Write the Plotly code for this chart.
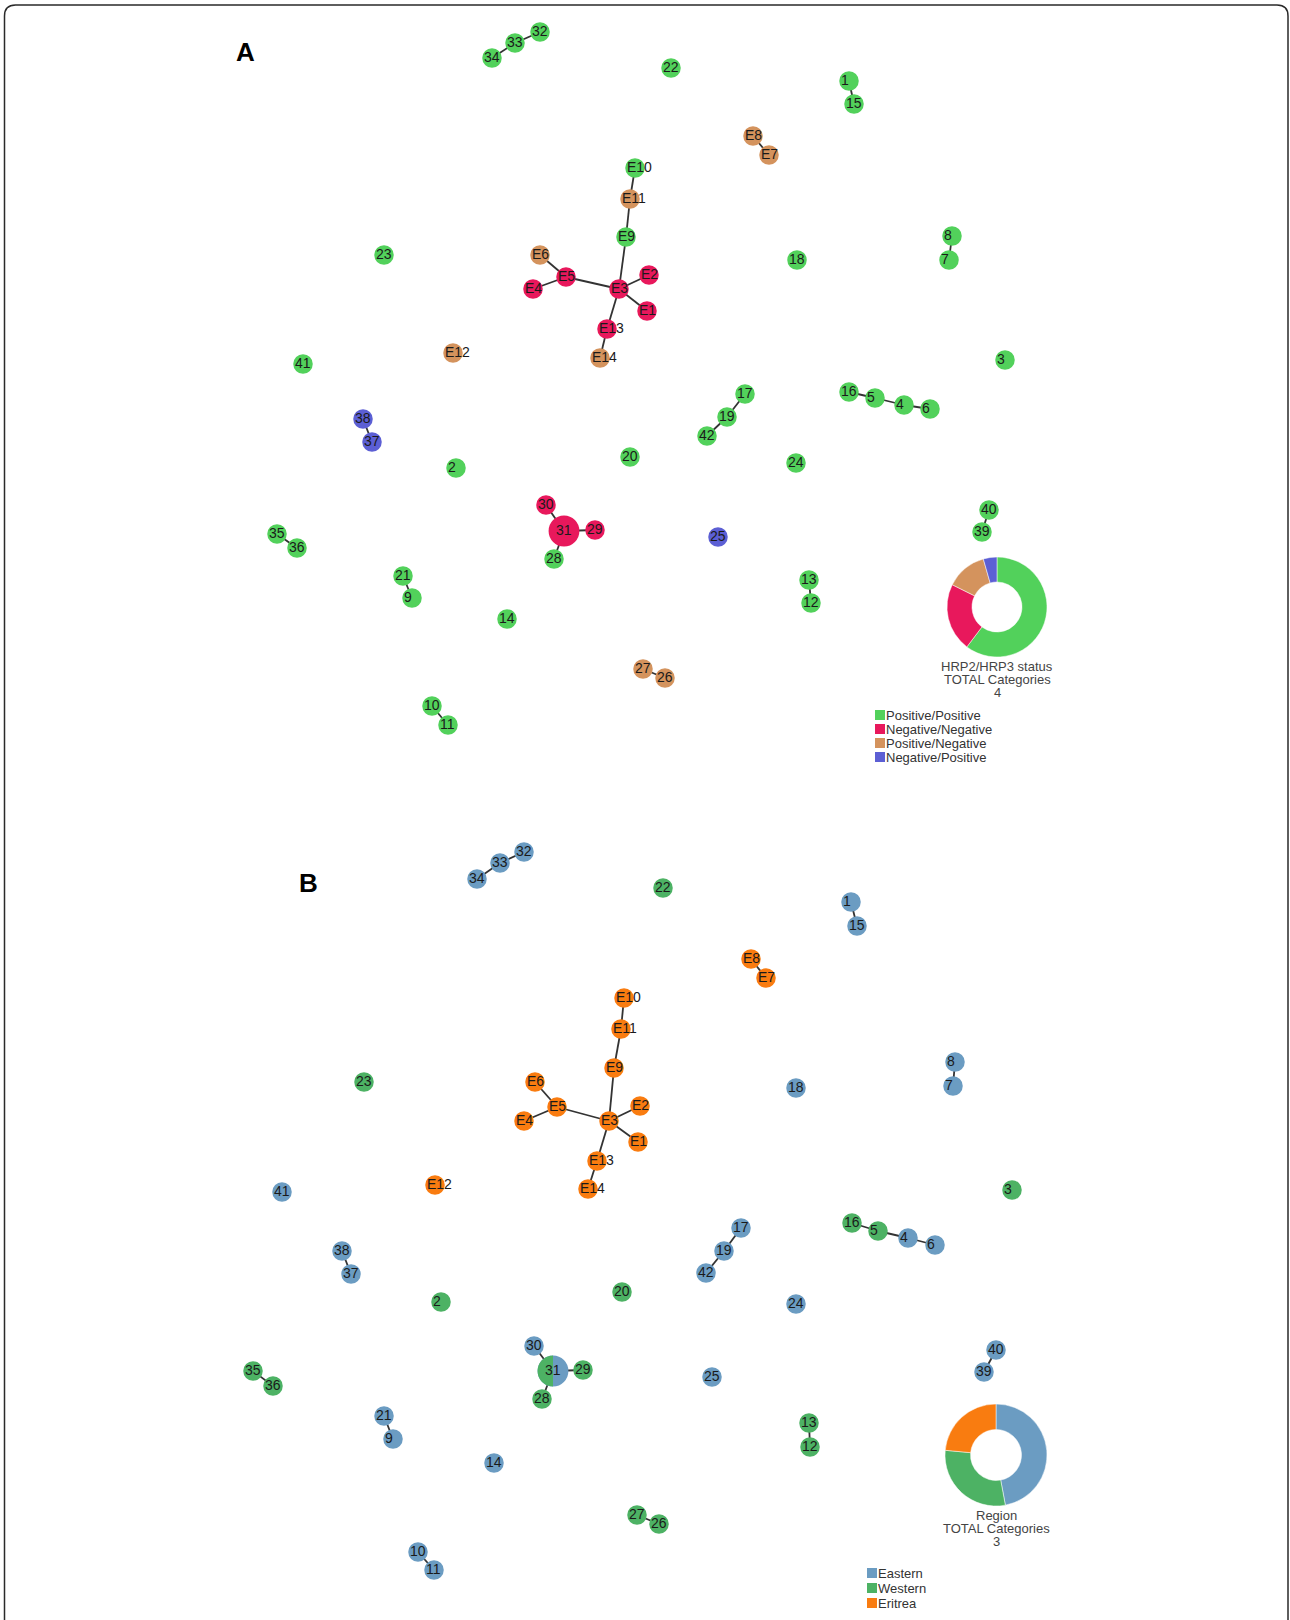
import numpy as np
import plotly.graph_objects as go

# ---------------- data ----------------
node_ids = ["32", "33", "34", "22", "1", "15", "E8", "E7", "E10", "E11", "E9", "E6", "E5", "E4",
            "E3", "E2", "E1", "E13", "E14", "23", "E12", "41", "18", "8", "7", "3", "16", "5",
            "4", "6", "17", "19", "42", "38", "37", "2", "20", "24", "30", "31", "29", "28",
            "25", "40", "39", "35", "36", "21", "9", "13", "12", "14", "27", "26", "10", "11"]

# network layout coordinates, panel A
a_x = [540, 515, 492, 671, 849, 854, 753, 769, 635, 630, 626, 540, 566, 533,
       619, 649, 647, 607, 600, 384, 453, 303, 797, 952, 949, 1005, 849, 875,
       904, 930, 745, 727, 707, 363, 372, 456, 630, 796, 546, 564, 595, 554,
       718, 989, 982, 277, 297, 403, 412, 809, 811, 507, 643, 665, 432, 448]
a_y = [32, 43, 58, 68, 81, 104, 136, 155, 168, 199, 237, 255, 277, 289,
       289, 275, 311, 329, 358, 255, 353, 364, 260, 236, 260, 360, 392, 398,
       405, 409, 394, 417, 436, 419, 442, 468, 457, 463, 505, 531, 530, 559,
       537, 510, 532, 534, 548, 576, 598, 580, 603, 619, 669, 678, 706, 725]

# network layout coordinates, panel B
b_x = [524, 500, 477, 663, 851, 857, 751, 766, 624, 621, 614, 535, 557, 524,
       609, 640, 638, 597, 588, 364, 435, 282, 796, 955, 953, 1012, 852, 878,
       908, 935, 741, 724, 706, 342, 351, 441, 622, 796, 534, 553, 583, 542,
       712, 996, 984, 253, 273, 384, 393, 809, 810, 494, 637, 659, 418, 434]
b_y = [852, 863, 879, 888, 902, 926, 959, 978, 998, 1029, 1068, 1082, 1107, 1121,
       1121, 1106, 1142, 1161, 1189, 1082, 1185, 1192, 1088, 1062, 1086, 1190, 1223, 1231,
       1238, 1245, 1228, 1251, 1273, 1251, 1274, 1302, 1292, 1304, 1346, 1371, 1370, 1399,
       1377, 1350, 1372, 1371, 1386, 1416, 1439, 1423, 1447, 1463, 1515, 1524, 1552, 1570]

# samples per node (node 31 aggregates several isolates)
samples = [1] * len(node_ids)
samples[node_ids.index("31")] = 4

status_labels = ["Positive/Positive", "Negative/Negative", "Positive/Negative", "Negative/Positive"]
status_counts = [41, 15, 9, 3]
region_labels = ["Eastern", "Western", "Eritrea"]
region_counts = [32, 20, 16]

PP, NN, PN, NP = status_labels
node_status = [PP, PP, PP, PP, PP, PP, PN, PN, PP, PN, PP, PN, NN, NN,
               NN, NN, NN, NN, PN, PP, PN, PP, PP, PP, PP, PP, PP, PP,
               PP, PP, PP, PP, PP, NP, NP, PP, PP, PP, NN, NN, NN, PP,
               NP, PP, PP, PP, PP, PP, PP, PP, PP, PP, PN, PN, PP, PP]

EA, WE, ER = region_labels
node_region = [EA, EA, EA, WE, EA, EA, ER, ER, ER, ER, ER, ER, ER, ER,
               ER, ER, ER, ER, ER, WE, ER, EA, EA, EA, EA, WE, WE, WE,
               EA, EA, EA, EA, EA, EA, EA, WE, WE, EA, EA, EA, WE, WE,
               EA, EA, EA, WE, WE, EA, EA, WE, WE, EA, WE, WE, EA, EA]
mixed_region_nodes = {"31": [WE, EA]}  # left half Western, right half Eastern

edges = [("32", "33"), ("33", "34"), ("1", "15"), ("E8", "E7"), ("E10", "E11"), ("E11", "E9"),
         ("E9", "E3"), ("E6", "E5"), ("E4", "E5"), ("E5", "E3"), ("E2", "E3"), ("E1", "E3"),
         ("E13", "E3"), ("E14", "E13"), ("8", "7"), ("16", "5"), ("5", "4"), ("4", "6"),
         ("17", "19"), ("19", "42"), ("38", "37"), ("40", "39"), ("30", "31"), ("31", "29"),
         ("31", "28"), ("35", "36"), ("21", "9"), ("13", "12"), ("27", "26"), ("10", "11")]

# ---------------- styles ----------------
W, H = 1290, 1620
status_colors = {PP: "#52d15b", NN: "#e8185c", PN: "#d4935d", NP: "#5c5fd4"}
region_colors = {EA: "#6b9cc2", WE: "#4db264", ER: "#f97c10"}
FONT = "Liberation Sans, Arial, sans-serif"
BASE = 19.5

fig = go.Figure()
annotations = []
shapes = []


def add_panel(xs, ys, colors, letter, letter_pos):
    pos = {n: (x, y) for n, x, y in zip(node_ids, xs, ys)}
    ex, ey = [], []
    for a, b in edges:
        ex += [pos[a][0], pos[b][0], None]
        ey += [pos[a][1], pos[b][1], None]
    fig.add_trace(go.Scatter(x=ex, y=ey, mode="lines",
                             line=dict(color="#333333", width=1.8),
                             hoverinfo="skip", showlegend=False))
    sizes = [BASE * s ** 0.33 for s in samples]
    fig.add_trace(go.Scatter(x=xs, y=ys, mode="markers",
                             marker=dict(size=sizes, color=colors, opacity=1, line=dict(width=0)),
                             text=node_ids, hoverinfo="text", showlegend=False))
    for n, x, y in zip(node_ids, xs, ys):
        annotations.append(dict(x=x, y=y, xref="x", yref="y", text=n, showarrow=False,
                                xanchor="left", yanchor="middle", xshift=-10, yshift=1,
                                font=dict(family=FONT, size=14, color="#1a1a1a")))
    annotations.append(dict(x=letter_pos[0], y=letter_pos[1], xref="x", yref="y",
                            text="<b>%s</b>" % letter, showarrow=False,
                            font=dict(family=FONT, size=26, color="#000000")))
    return pos


def add_donut(labels, counts, cmap, cx, cy, r, title, legend_x, legend_y0, legend_dy):
    fig.add_trace(go.Pie(values=counts, labels=labels,
                         marker=dict(colors=[cmap[l] for l in labels],
                                     line=dict(color="white", width=0.5)),
                         hole=0.5, sort=False, direction="clockwise", rotation=0,
                         textinfo="none", showlegend=False,
                         domain=dict(x=[(cx - r) / W, (cx + r) / W],
                                     y=[1 - (cy + r) / H, 1 - (cy - r) / H])))
    lines = [title, "TOTAL Categories", str(len(labels))]
    for i, t in enumerate(lines):
        annotations.append(dict(x=cx, y=cy + r + 9 + 13 * i, xref="x", yref="y", text=t,
                                showarrow=False, xanchor="center", yanchor="middle",
                                font=dict(family=FONT, size=13, color="#444444")))
    for i, l in enumerate(labels):
        yy = legend_y0 + legend_dy * i
        fig.add_trace(go.Scatter(x=[legend_x], y=[yy], mode="markers",
                                 marker=dict(symbol="square", size=10, color=cmap[l], opacity=1),
                                 hoverinfo="skip", showlegend=False))
        annotations.append(dict(x=legend_x, y=yy, xref="x", yref="y", text=l,
                                showarrow=False, xanchor="left", yanchor="middle",
                                xshift=4, font=dict(family=FONT, size=13, color="#333333")))


# Panel A
add_panel(a_x, a_y, [status_colors[s] for s in node_status], "A", (245, 52))
add_donut(status_labels, status_counts, status_colors, 997, 607, 50,
          "HRP2/HRP3 status", 880, 715, 14)

# Panel B
posB = add_panel(b_x, b_y, [region_colors[s] for s in node_region], "B", (308, 883))
add_donut(region_labels, region_counts, region_colors, 996, 1455, 51,
          "Region", 872, 1573, 15)

# split-colour node in panel B: draw left half of the mixed node
for n, (left, right) in mixed_region_nodes.items():
    cx, cy = posB[n]
    r = BASE * samples[node_ids.index(n)] ** 0.33 / 2
    th = np.linspace(np.pi / 2, 3 * np.pi / 2, 40)
    px = cx + r * np.cos(th)
    py = cy - r * np.sin(th)
    path = "M %.2f,%.2f " % (px[0], py[0]) + " ".join("L %.2f,%.2f" % (a, b) for a, b in zip(px[1:], py[1:])) + " Z"
    shapes.append(dict(type="path", xref="x", yref="y", path=path,
                       fillcolor=region_colors[left], line=dict(width=0), layer="above"))

# outer frame
shapes.append(dict(type="path", xref="x", yref="y",
                   path="M 4.5,1640 L 4.5,16 Q 4.5,5 15.5,5 L 1277,5 Q 1288,5 1288,16 L 1288,1640",
                   line=dict(color="#2a2a2a", width=1.5), layer="below"))

fig.update_layout(
    width=W, height=H, autosize=False,
    margin=dict(l=0, r=0, t=0, b=0, pad=0),
    paper_bgcolor="white", plot_bgcolor="white",
    xaxis=dict(range=[0, W], visible=False, fixedrange=True),
    yaxis=dict(range=[H, 0], visible=False, fixedrange=True),
    annotations=annotations, shapes=shapes,
    showlegend=False,
)

fig.write_html("out.html", config={"displayModeBar": False},
               post_script="document.body.style.margin='0';document.body.style.overflow='hidden';")
